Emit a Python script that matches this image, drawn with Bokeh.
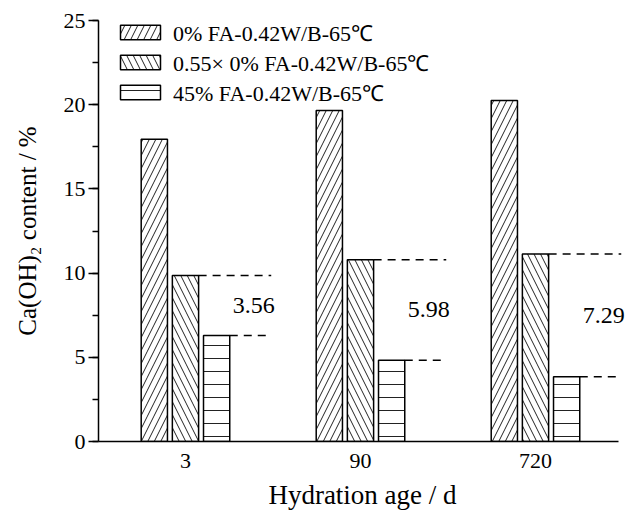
from bokeh.plotting import figure
from bokeh.models import Range1d, FixedTicker, SingleIntervalTicker, Legend, LegendItem, ColumnDataSource, LabelSet
from bokeh.embed import file_html
from bokeh.resources import INLINE

# ---- data ----
ages = ["3", "90", "720"]
series_names = ["0% FA-0.42W/B-65\u2103", "0.55\u00d7 0% FA-0.42W/B-65\u2103", "45% FA-0.42W/B-65\u2103"]
fa0 = [17.95, 19.65, 20.25]
fa0_scaled = [9.86, 10.80, 11.14]
fa45 = [6.30, 4.82, 3.85]
diff_labels = ["3.56", "5.98", "7.29"]

FONT = "Liberation Serif"
gx = [i + 1 for i in range(len(ages))]
bw = 0.15
dx = 0.178
x_start, x_axis_end, x_end = 0.503, 3.474, 3.52

p = figure(width=626, height=513, output_backend="svg", toolbar_location=None,
           x_range=Range1d(x_start, x_end), y_range=Range1d(0, 25),
           min_border_left=98, min_border_right=0, min_border_top=20, min_border_bottom=72)
p.outline_line_color = None
p.xgrid.visible = False
p.ygrid.visible = False
p.background_fill_color = "white"
p.border_fill_color = "white"

patterns = ["/", "\\", "-"]
vals = [fa0, fa0_scaled, fa45]
offs = [-dx, 0.0, dx]
renderers = []
for v, off, pat in zip(vals, offs, patterns):
    src = ColumnDataSource(dict(x=[g + off for g in gx], top=v))
    r = p.vbar(x="x", top="top", width=bw, bottom=0, source=src,
               fill_color="white", line_color="black", line_width=1.5,
               hatch_pattern=pat, hatch_color="#222222", hatch_weight=1, hatch_scale=13)
    renderers.append(r)

# dashed reference lines and difference labels
seg_src = ColumnDataSource(dict(
    x0=[g + bw / 2 for g in gx] + [g + dx + bw / 2 for g in gx],
    x1=[g + 0.49 for g in gx] + [g + 0.46 for g in gx],
    y=fa0_scaled + fa45))
p.segment(x0="x0", y0="y", x1="x1", y1="y", source=seg_src,
          line_color="black", line_width=1.5, line_dash="8 6")

txt_src = ColumnDataSource(dict(x=[g + 0.39 for g in gx],
                                y=[(a + b) / 2 for a, b in zip(fa0_scaled, fa45)],
                                t=diff_labels))
labels = LabelSet(x="x", y="y", text="t", source=txt_src, text_font=FONT, text_font_size="24px",
                  text_align="center", text_baseline="middle", text_color="black")
p.add_layout(labels)

# axes
p.xaxis.bounds = (x_start, x_axis_end)
p.xaxis.ticker = FixedTicker(ticks=gx)
p.xaxis.major_label_overrides = {g: a for g, a in zip(gx, ages)}
p.xaxis.major_tick_out = 0
p.xaxis.major_tick_in = 0
p.xaxis.minor_tick_out = 0
p.xaxis.minor_tick_in = 0
p.xaxis.major_label_standoff = 12
p.xaxis.axis_label = "Hydration age / d"
p.xaxis.axis_label_standoff = 9

p.yaxis.ticker = SingleIntervalTicker(interval=5, num_minor_ticks=2)
p.yaxis.major_tick_out = 10
p.yaxis.major_tick_in = 0
p.yaxis.minor_tick_out = 6
p.yaxis.minor_tick_in = 0
p.yaxis.major_label_standoff = 3
p.yaxis.axis_label = "Ca(OH)\u2082 content / %"
p.yaxis.axis_label_standoff = 20

for ax in (p.xaxis[0], p.yaxis[0]):
    ax.axis_line_width = 1.5
    ax.axis_line_color = "black"
    ax.major_tick_line_width = 1.5
    ax.minor_tick_line_width = 1.5
    ax.major_tick_line_color = "black"
    ax.minor_tick_line_color = "black"
    ax.major_label_text_font = FONT
    ax.major_label_text_font_size = "22px"
    ax.major_label_text_color = "black"
    ax.axis_label_text_font = FONT
    ax.axis_label_text_font_style = "normal"
    ax.axis_label_text_color = "black"
p.xaxis.axis_label_text_font_size = "27px"
p.yaxis.axis_label_text_font_size = "25px"

legend = Legend(items=[LegendItem(label=n, renderers=[r]) for n, r in zip(series_names, renderers)],
                location=(17, 334), glyph_width=50, glyph_height=18, label_height=23,
                spacing=0, padding=0, margin=0, label_standoff=8,
                label_text_font=FONT, label_text_font_size="22px", label_text_color="black",
                background_fill_alpha=0, border_line_color=None)
p.add_layout(legend, "center")

open("out.html", "w").write(file_html(p, INLINE))
